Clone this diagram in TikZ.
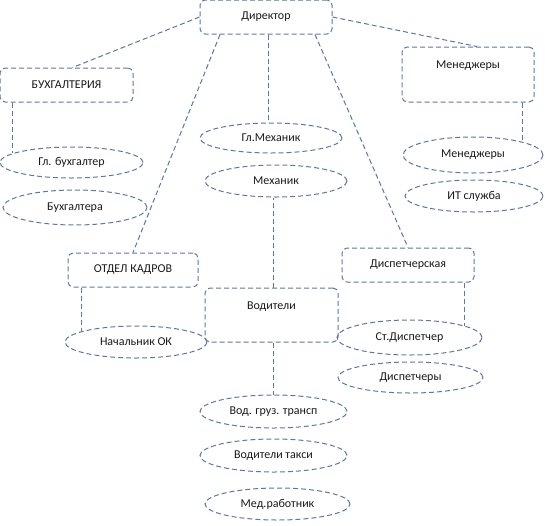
\documentclass[tikz,border=0pt]{standalone}
\usepackage{fontspec}
\setmainfont{Carlito}
\usepackage{tikz}
\usetikzlibrary{shapes.geometric,calc}
\definecolor{dashblue}{RGB}{90,120,165}
\definecolor{labgray}{RGB}{25,25,25}

\tikzset{
  box/.style={draw=dashblue,line width=1pt,dash pattern=on 5pt off 3pt,rounded corners=5pt,
    minimum width=132pt,minimum height=34pt,inner sep=0pt,text=labgray},
  tallbox/.style={box,minimum height=54pt,text depth=19pt},
  oval/.style={ellipse,draw=dashblue,line width=1pt,dash pattern=on 5pt off 3pt,
    inner sep=0pt,text=labgray},
  link/.style={draw=dashblue,line width=1pt,dash pattern=on 5pt off 3pt}
}

\begin{document}
\begin{tikzpicture}[x=1pt,y=-1pt,font=\fontsize{12}{14}\selectfont]
\useasboundingbox (0,0) rectangle (545,525);
% departments
\node[box] (director) at (266,17) {Директор};
\node[box,minimum width=133pt] (buh) at (66.5,85) {БУХГАЛТЕРИЯ};
\node[box,minimum width=130pt] (ok) at (133,270) {ОТДЕЛ КАДРОВ};
\node[tallbox,minimum width=133pt] (vod) at (271.5,315) {Водители};
\node[tallbox,minimum height=55pt] (men) at (468,74.5) {Менеджеры};
\node[box] (disp) at (408,265) {Диспетчерская};
% staff
\foreach \nm/\x/\y/\w/\h/\txt in {
  glbuh/71.5/162.5/143/31/Гл. бухгалтер,
  buhg/75/207.5/144/35/Бухгалтера,
  nachok/136/342/142/32/Начальник ОК,
  glmeh/271/138/142/30/Гл.Механик,
  meh/276/181/142/32/Механик,
  vodgr/273.5/411.5/147/33/Вод. груз. трансп,
  vodtaxi/273.5/455.5/147/33/Водители такси,
  med/277.5/504/145/32/Мед.работник,
  men2/473/155/140/36/Менеджеры,
  it/474/196/138/32/ИТ служба,
  stdisp/409.5/337.5/145/35/Ст.Диспетчер,
  disps/410.5/377.5/145/31/Диспетчеры}{
  \node[oval,minimum width=\w pt,minimum height=\h pt] (\nm) at (\x,\y) {\txt};
}
% links from the director
\draw[link] (director.west) -- ([xshift=6pt]buh.north);
\draw[link] ([xshift=-46pt]director.south) -- (ok.north);
\draw[link] ([xshift=2pt]director.south) -- ([xshift=2pt]director.south |- glmeh.north);
\draw[link] ([xshift=49pt]director.south) -- (disp.north);
\draw[link] (director.east) -- ([xshift=9pt]men.north);
% links inside departments
\draw[link] (glbuh.171 |- buh.south) -- (glbuh.171);
\draw[link] (nachok.169 |- ok.south) -- (nachok.169);
\draw[link] (men2.15 |- men.south) -- (men2.15);
\draw[link] (stdisp.12 |- disp.south) -- (stdisp.12);
\draw[link] ([xshift=1.5pt]vod.north) -- ([xshift=1.5pt]vod.north |- meh.south);
\draw[link] ([xshift=1.5pt]vod.south) -- ([xshift=1.5pt]vod.south |- vodgr.north);
\end{tikzpicture}
\end{document}
